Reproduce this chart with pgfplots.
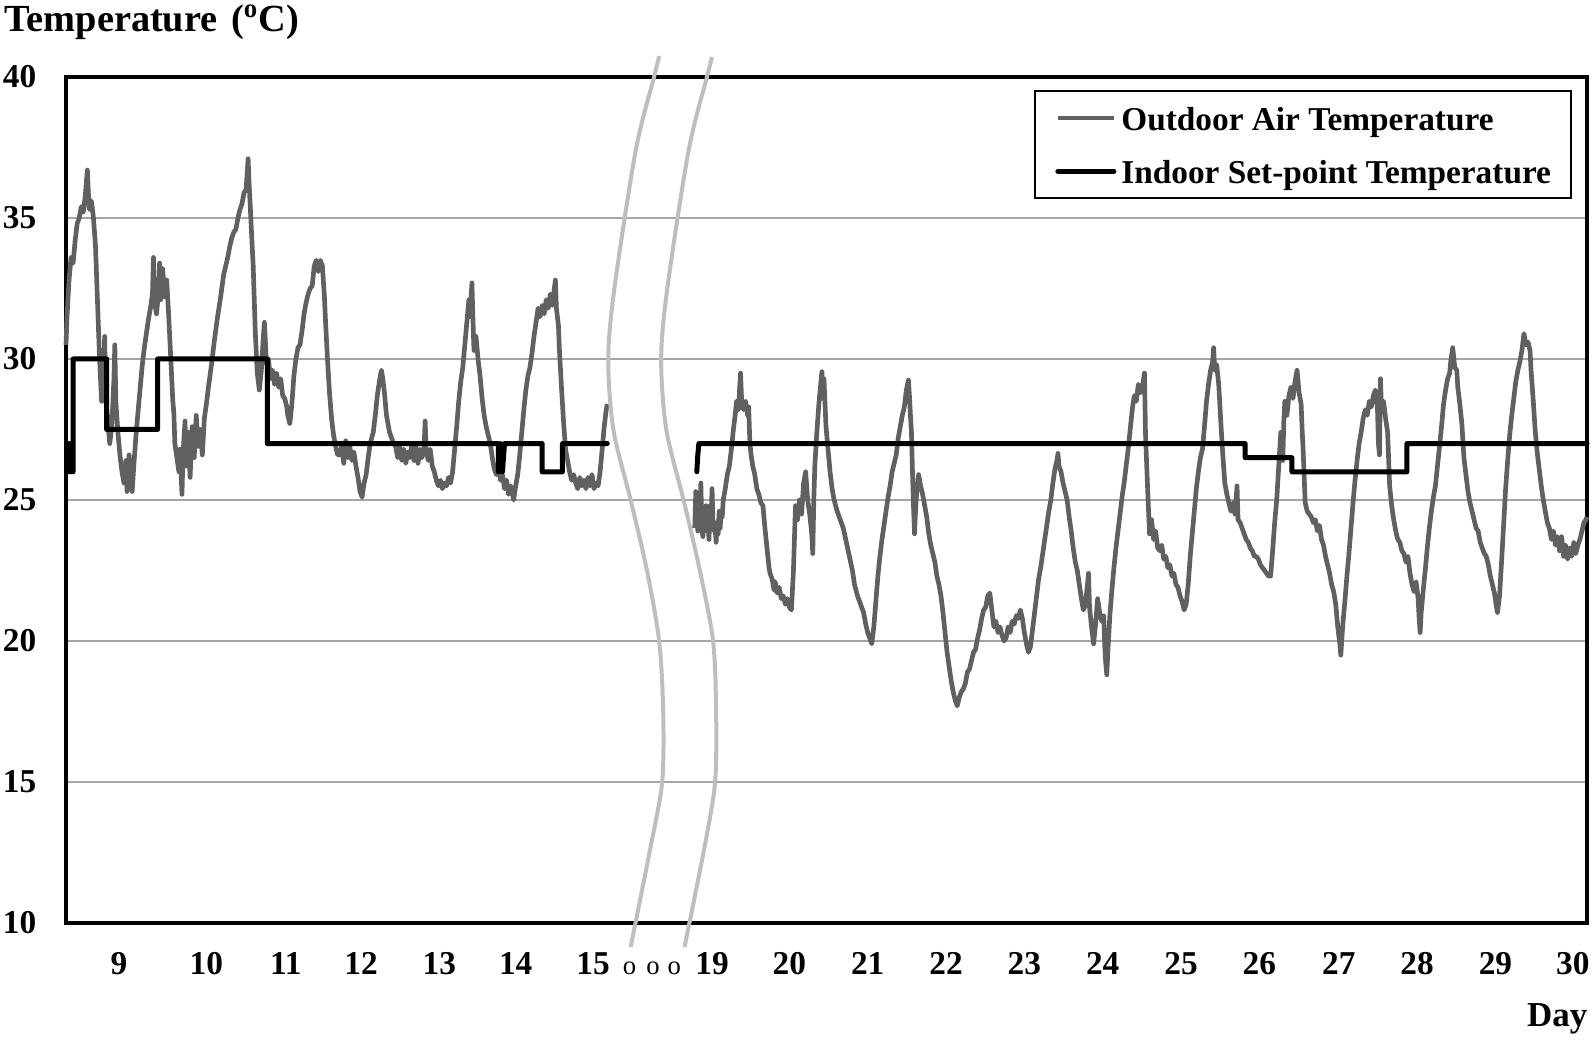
\documentclass[border=0pt]{standalone}
\usepackage{fontspec}
\setmainfont{Liberation Serif}
\usepackage{pgfplots}
\pgfplotsset{compat=1.18}
\usetikzlibrary{calc}
\definecolor{outdoor}{RGB}{96,96,96}
\definecolor{gridgray}{RGB}{165,165,165}
\definecolor{breakgray}{RGB}{190,190,190}
\begin{document}
\begin{tikzpicture}
\begin{axis}[
  name=ax,
  scale only axis, width=456.3pt, height=253.8pt,
  xmin=65, xmax=1560, ymin=10, ymax=40,
  clip=false,
  xtick={117,203,281,355,432,507,583,700,776,853,930,1007,1084,1161,1238,1316,1393,1470,1546},
  xticklabels={9,10,11,12,13,14,15,19,20,21,22,23,24,25,26,27,28,29,30},
  ytick={10,15,20,25,30,35,40},
  /pgf/number format/assume math mode=true,
  ymajorgrids, major grid style={gridgray, line width=0.5pt},
  major tick length=0pt,
  axis line style={line width=1.4pt, line cap=rect},
  every tick label/.append style={font=\bfseries\fontsize{10}{12}\selectfont, inner sep=0pt},
  xticklabel style={anchor=base, yshift=-15.6pt},
  yticklabel style={anchor=east, xshift=-8.7pt},
  legend cell align=left,
  legend image code/.code={\draw[#1] (0pt,0pt) -- (16.8pt,0pt);},
  legend style={draw=black, line width=0.6pt, fill=white,
    at={(rel axis cs:1,1)}, anchor=north east, xshift=-4.5pt, yshift=-3.9pt,
    inner xsep=6pt, inner ysep=3.3pt, row sep=6.2pt, /tikz/column sep=1.5pt,
    nodes={inner sep=0pt, font=\bfseries\fontsize{10}{12}\selectfont, text height=8.5pt, text depth=1.2pt, anchor=west}},
]
% Outdoor air temperature, first period (x: position along the time axis, y: deg C)
\addplot[outdoor, line width=1.4pt, line join=round] coordinates {
(65,30.5)(66,31.5)(68,32.8)(70,33.6)(72,33.4)(74,34.2)(76,34.8)(78,35.0)(80,35.4)(82,35.2)(84,35.8)(86,36.7)(87,35.9)(88,35.3)(90,35.6)(92,35.0)(94,34.0)(96,32.0)(98,30.0)(100,28.5)(102,29.5)(103,30.8)(104,28.6)(106,27.8)(108,27.0)(110,27.6)(112,29.2)(113,30.5)(114,28.5)(116,27.4)(118,26.6)(120,26.0)(122,25.6)(124,26.4)(125,25.3)(127,26.6)(129,26.0)(130,25.3)(132,26.4)(134,27.4)(136,28.2)(138,29.0)(140,29.8)(142,30.4)(144,30.9)(146,31.4)(148,31.8)(150,32.3)(151,33.6)(152,32.0)(154,31.6)(156,32.4)(157,33.4)(158,32.1)(160,33.2)(162,32.2)(164,32.8)(166,31.5)(168,30.0)(170,28.5)(171,28.1)(172,27.0)(174,26.5)(176,26.0)(177,26.8)(179,25.2)(180,26.6)(182,27.8)(183,26.2)(185,27.4)(187,25.8)(189,27.6)(191,26.5)(193,28.0)(195,26.9)(197,27.5)(199,26.6)(201,27.9)(203,28.4)(205,29.0)(208,29.8)(211,30.7)(214,31.5)(217,32.2)(220,33.0)(222,33.3)(224,33.6)(226,34.0)(228,34.3)(230,34.5)(232,34.6)(234,35.0)(236,35.3)(238,35.5)(240,35.9)(242,36.0)(244,37.1)(245,36.2)(246,35.5)(248,34.0)(249,33.3)(251,31.0)(253,29.5)(255,28.9)(257,29.6)(259,30.8)(260,31.3)(261,30.6)(262,29.8)(264,30.0)(266,29.3)(268,29.6)(270,29.1)(272,29.5)(274,29.0)(276,29.3)(278,28.7)(280,28.6)(282,28.3)(283,28.0)(285,27.7)(287,28.4)(289,29.4)(291,30.0)(293,30.4)(295,30.5)(297,31.0)(299,31.6)(301,32.0)(303,32.3)(305,32.5)(307,32.6)(309,33.3)(311,33.5)(313,33.1)(315,33.5)(317,33.3)(319,32.2)(320,31.4)(322,30.0)(324,28.8)(326,27.9)(328,27.3)(330,26.9)(332,26.6)(334,26.6)(336,26.9)(338,26.3)(340,27.1)(342,26.5)(344,26.9)(346,26.4)(348,26.7)(350,26.2)(352,25.8)(354,25.3)(356,25.1)(358,25.6)(360,25.9)(362,26.5)(364,27.0)(367,27.4)(369,28.0)(371,28.7)(373,29.2)(375,29.6)(376,29.4)(378,28.8)(380,28.0)(383,27.4)(385,27.2)(387,27.0)(389,26.9)(391,26.5)(393,26.9)(395,26.4)(397,26.8)(399,26.3)(401,26.7)(403,26.5)(405,27.0)(407,26.4)(409,26.9)(411,26.3)(413,26.8)(415,26.5)(417,26.9)(418,27.8)(419,26.8)(421,26.4)(423,26.8)(425,26.2)(427,26.0)(429,25.7)(431,25.5)(433,25.7)(435,25.4)(437,25.6)(439,25.5)(441,25.8)(443,25.6)(445,26.0)(447,26.8)(449,27.6)(451,28.5)(453,29.2)(455,29.7)(457,30.5)(459,31.3)(461,32.1)(462,31.5)(464,32.7)(465,31.4)(466,30.3)(468,30.8)(470,30.0)(472,29.4)(474,28.6)(476,28.0)(478,27.6)(480,27.3)(482,27.0)(484,26.5)(486,26.1)(488,25.9)(490,26.3)(492,25.7)(494,25.9)(496,25.4)(498,25.7)(500,25.2)(502,25.5)(504,25.2)(505,25.0)(507,25.5)(509,25.9)(511,26.6)(513,27.4)(515,28.2)(517,28.9)(519,29.4)(521,29.7)(523,30.2)(525,30.8)(527,31.3)(529,31.8)(531,31.5)(533,31.9)(535,31.6)(537,32.1)(539,31.8)(541,32.3)(543,31.9)(545,32.5)(546,32.8)(547,31.8)(549,31.2)(550,30.3)(552,29.0)(554,27.8)(556,26.8)(558,26.4)(560,26.0)(562,25.7)(564,25.9)(566,25.6)(568,25.4)(570,25.8)(572,25.5)(574,25.7)(576,25.4)(578,25.8)(580,25.5)(582,25.9)(584,25.4)(586,25.6)(588,25.5)(590,26.0)(592,26.8)(594,27.6)(596,28.2)(597,28.4)
};
\addlegendentry{Outdoor Air Temperature}
% Indoor set-point temperature, first period
\addplot[black, line width=1.5pt, line cap=round, line join=round] coordinates {
(66,26)(67,27)(68,26)(69,27)(70,26)(71,27)(72,26)(72,30)(105,30)(105,27.5)(155,27.5)(155,30)(263,30)(263,27)(490,27)(490,26)(492,27)(494,26)(496,27)(533,27)(533,26)(553,26)(553,27)(597,27)
};
\addlegendentry{Indoor Set-point Temperature}
% Outdoor air temperature, second period
\addplot[outdoor, line width=1.4pt, line join=round, forget plot] coordinates {
(683,24.0)(684,25.3)(685,24.4)(686,23.9)(687,25.0)(688,24.2)(689,25.6)(690,24.0)(691,23.7)(692,24.5)(693,24.0)(694,24.8)(695,23.9)(696,24.3)(697,23.6)(698,24.8)(699,24.2)(700,25.4)(701,24.1)(702,23.9)(703,24.0)(704,23.5)(705,24.2)(706,23.8)(707,24.6)(708,24.0)(709,24.6)(710,24.4)(711,25.0)(713,25.4)(715,25.9)(717,26.2)(719,26.8)(721,27.5)(723,28.1)(724,28.5)(726,28.2)(727,28.9)(728,29.5)(729,28.6)(731,28.2)(733,28.5)(735,28.0)(736,28.3)(737,27.2)(738,26.7)(740,26.2)(742,25.9)(744,25.4)(746,25.2)(748,24.9)(750,24.8)(752,24.0)(754,23.3)(756,22.6)(757,22.4)(759,22.2)(761,21.8)(762,22.1)(764,21.7)(766,21.9)(768,21.5)(770,21.6)(772,21.3)(774,21.5)(776,21.2)(778,21.1)(780,22.5)(782,24.8)(784,24.3)(786,25.0)(788,24.5)(790,25.6)(792,26.0)(794,25.0)(796,24.5)(798,23.8)(799,23.1)(800,25.0)(801,26.2)(803,27.4)(805,28.4)(807,29.2)(808,29.55)(809,28.6)(810,29.3)(812,27.6)(814,26.8)(816,26.0)(818,25.4)(820,25.0)(823,24.6)(826,24.3)(829,24.0)(832,23.5)(835,23.0)(838,22.5)(840,22.0)(843,21.6)(846,21.3)(849,21.0)(851,20.6)(853,20.3)(855,20.1)(857,19.9)(859,20.5)(861,21.4)(863,22.3)(865,23.0)(867,23.6)(869,24.1)(871,24.6)(873,25.1)(875,25.5)(877,26.0)(879,26.3)(881,26.6)(883,27.2)(885,27.6)(887,28.0)(889,28.3)(891,28.9)(893,29.25)(894,28.7)(895,28.0)(896,27.4)(897,26.0)(898,24.8)(899,23.8)(900,24.6)(901,25.2)(903,25.9)(905,25.5)(907,25.2)(909,24.8)(911,24.4)(913,23.8)(915,23.4)(917,23.1)(919,22.8)(921,22.3)(923,22.0)(925,21.6)(927,21.0)(929,20.3)(931,19.6)(933,19.1)(935,18.6)(937,18.2)(939,17.9)(941,17.7)(943,18.0)(945,18.2)(947,18.3)(949,18.5)(951,18.9)(953,19.0)(955,19.3)(957,19.6)(959,19.7)(961,20.1)(963,20.4)(965,20.8)(967,21.1)(969,21.2)(971,21.6)(973,21.7)(975,21.1)(977,20.5)(979,20.7)(981,20.3)(983,20.5)(985,20.2)(987,20.0)(989,20.1)(991,20.5)(993,20.3)(995,20.7)(997,20.6)(999,20.9)(1001,20.8)(1003,21.1)(1005,20.8)(1007,20.3)(1009,19.9)(1011,19.6)(1013,19.8)(1015,20.4)(1017,21.0)(1019,21.6)(1021,22.2)(1023,22.6)(1025,23.1)(1027,23.6)(1029,24.1)(1031,24.6)(1033,25.0)(1035,25.6)(1037,26.1)(1039,26.4)(1040,26.65)(1041,26.2)(1043,26.0)(1045,25.6)(1047,25.3)(1049,25.0)(1051,24.4)(1053,23.9)(1055,23.3)(1057,22.8)(1059,22.5)(1061,22.0)(1063,21.5)(1065,21.1)(1067,21.3)(1069,22.0)(1070,22.4)(1071,21.2)(1073,20.5)(1075,19.9)(1077,20.6)(1079,21.5)(1081,21.0)(1083,20.7)(1085,20.9)(1086,19.8)(1087,19.2)(1088,18.8)(1089,19.6)(1091,20.9)(1093,21.8)(1095,22.6)(1097,23.3)(1099,23.9)(1101,24.5)(1103,25.1)(1105,25.6)(1107,26.2)(1109,26.8)(1111,27.5)(1113,28.2)(1115,28.7)(1117,28.5)(1119,29.1)(1121,28.8)(1123,29.0)(1125,29.5)(1126,27.4)(1128,25.5)(1130,23.8)(1132,24.3)(1134,23.6)(1136,23.9)(1138,23.3)(1140,23.2)(1142,23.4)(1144,22.9)(1146,23.0)(1148,22.6)(1150,22.7)(1152,22.3)(1154,22.4)(1156,22.0)(1158,21.9)(1160,21.6)(1162,21.4)(1164,21.1)(1166,21.3)(1168,22.0)(1170,23.0)(1172,23.8)(1174,24.6)(1176,25.4)(1178,26.0)(1180,26.5)(1182,26.8)(1184,27.6)(1186,28.5)(1188,29.1)(1190,29.6)(1192,29.9)(1193,30.4)(1194,29.6)(1196,29.8)(1198,29.1)(1200,27.8)(1202,26.6)(1204,25.6)(1206,25.2)(1208,24.9)(1210,24.6)(1212,24.9)(1214,24.5)(1216,25.5)(1217,24.3)(1219,24.2)(1221,24.0)(1223,23.8)(1225,23.6)(1227,23.5)(1229,23.3)(1231,23.2)(1233,23.0)(1235,23.0)(1237,22.9)(1239,22.7)(1241,22.6)(1243,22.5)(1245,22.4)(1247,22.3)(1249,22.3)(1251,23.2)(1253,24.2)(1255,25.0)(1257,26.2)(1259,27.4)(1261,26.4)(1262,27.8)(1263,28.5)(1265,28.0)(1267,28.7)(1269,29.0)(1271,28.6)(1273,29.2)(1275,29.6)(1277,28.8)(1279,28.4)(1280,27.5)(1281,26.75)(1283,24.9)(1285,24.6)(1287,24.5)(1289,24.4)(1291,24.2)(1293,24.3)(1295,23.9)(1297,24.1)(1299,23.6)(1301,23.4)(1303,23.0)(1305,22.7)(1307,22.4)(1309,22.0)(1311,21.75)(1313,21.3)(1315,20.5)(1317,19.9)(1318,19.5)(1320,20.6)(1322,21.4)(1324,22.3)(1326,23.1)(1328,24.0)(1330,24.9)(1332,25.7)(1334,26.4)(1336,27.0)(1338,27.4)(1340,27.9)(1342,28.2)(1344,28.0)(1346,28.5)(1348,28.3)(1350,28.7)(1352,28.9)(1354,28.3)(1355,27.0)(1356,26.6)(1357,29.3)(1358,28.2)(1360,28.5)(1362,27.9)(1364,27.4)(1366,25.5)(1368,24.8)(1370,24.3)(1372,23.9)(1374,23.6)(1376,23.5)(1378,23.2)(1380,23.1)(1382,22.8)(1384,23.0)(1386,22.4)(1388,22.0)(1390,21.75)(1392,22.1)(1394,21.5)(1395,20.8)(1396,20.3)(1397,21.0)(1399,21.8)(1401,22.5)(1403,23.3)(1405,24.0)(1407,24.6)(1409,25.1)(1411,25.5)(1413,26.2)(1415,26.9)(1417,27.6)(1419,28.4)(1421,28.9)(1423,29.3)(1425,29.5)(1426,29.9)(1428,30.4)(1430,29.7)(1432,29.6)(1433,29.0)(1435,28.4)(1437,27.7)(1439,26.5)(1441,25.9)(1443,25.3)(1445,24.9)(1447,24.6)(1449,24.3)(1451,24.0)(1453,23.9)(1455,23.5)(1457,23.3)(1459,23.1)(1461,23.0)(1463,22.7)(1465,22.3)(1467,22.0)(1469,21.7)(1471,21.2)(1472,21.0)(1474,21.6)(1476,22.8)(1478,24.1)(1480,25.4)(1482,26.4)(1484,27.3)(1486,28.0)(1488,28.6)(1490,29.2)(1492,29.6)(1494,29.9)(1496,30.3)(1498,30.9)(1500,30.5)(1502,30.6)(1504,30.3)(1505,29.6)(1507,28.6)(1509,27.5)(1511,26.7)(1513,26.1)(1515,25.5)(1517,25.0)(1519,24.6)(1521,24.2)(1523,24.0)(1525,23.6)(1527,23.9)(1529,23.4)(1531,23.7)(1533,23.2)(1535,23.7)(1537,23.0)(1539,23.4)(1541,22.9)(1543,23.3)(1545,23.0)(1547,23.5)(1549,23.1)(1551,23.4)(1553,23.6)(1555,23.9)(1557,24.2)(1559,24.3)(1560,24.4)
};
% Indoor set-point temperature, second period
\addplot[black, line width=1.5pt, line cap=round, line join=round, forget plot] coordinates {
(685,26)(686,26.6)(687,27)(1224,27)(1224,26.5)(1270,26.5)(1270,26)(1383,26)(1383,27)(1560,27)
};
% axis break marks
\addplot[breakgray, line width=1.2pt, smooth, forget plot] coordinates {
(648,40.74)(643,40)(625,37.4)(604,32.5)(598,30)(603,27.5)(620,25)(636,22.5)(648,20)(652,17.5)(651,15)(640,12.77)(620,9.15)
};
\addplot[breakgray, line width=1.2pt, smooth, forget plot] coordinates {
(700,40.7)(695,40)(677,37.4)(656,32.5)(650,30)(655,27.5)(672,25)(688,22.5)(701,20)(704,17.5)(703,15)(693,12.77)(673,9.15)
};
\node[anchor=base, inner sep=0pt, yshift=-15.6pt, font=\fontsize{8}{9}\selectfont] at (axis cs:619,10) {o};
\node[anchor=base, inner sep=0pt, yshift=-15.6pt, font=\fontsize{8}{9}\selectfont] at (axis cs:642,10) {o};
\node[anchor=base, inner sep=0pt, yshift=-15.6pt, font=\fontsize{8}{9}\selectfont] at (axis cs:663,10) {o};
\end{axis}
\node[anchor=base west, inner sep=0pt, font=\bfseries\fontsize{11.5}{13}\selectfont] at ($(ax.north west)+(-18.6pt,13.5pt)$) {Temperature\hspace{0.1em} (\textsuperscript{o}C)};
\node[anchor=base east, inner sep=0pt, font=\bfseries\fontsize{10.5}{12}\selectfont] at ($(ax.south east)+(0.3pt,-31.2pt)$) {Day};
\pgfresetboundingbox
\path ($(ax.south west)+(-19.8pt,-35.1pt)$) rectangle ($(ax.north east)+(2.4pt,23.1pt)$);
\end{tikzpicture}
\end{document}
